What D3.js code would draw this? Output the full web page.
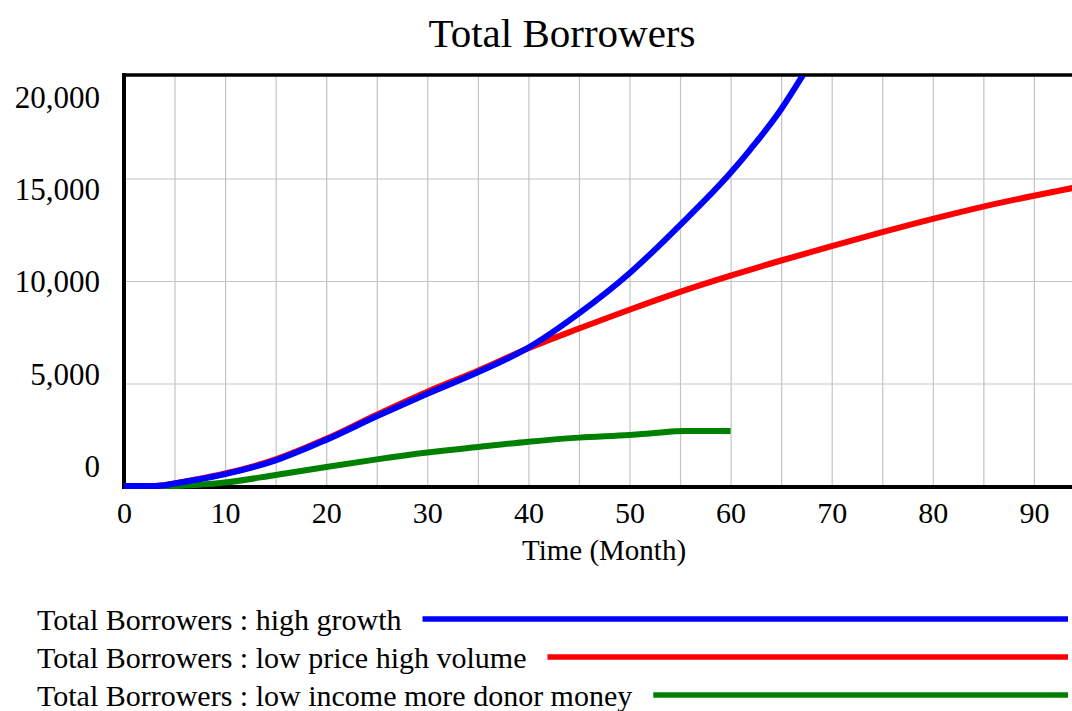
<!DOCTYPE html>
<html>
<head>
<meta charset="utf-8">
<script src="https://cdn.jsdelivr.net/npm/d3@7"></script>
<style>
  body { margin: 0; background: #fff; }
  text { font-family: "Liberation Serif", "Times New Roman", serif; fill: #000; }
</style>
</head>
<body>
<div id="chart"></div>
<script>
// months and values
var highGrowthT = [0, 3, 4, 5, 7, 10, 15, 20, 25, 30, 35, 40, 45, 50, 55, 60, 62, 65, 67, 70];
var highGrowthV = [0, 0, 40, 120, 290, 580, 1250, 2250, 3400, 4500, 5550, 6750, 8420, 10380, 12730, 15280, 16450, 18380, 19920, 22400];

var lowPriceT = [0, 3, 4, 5, 7, 10, 15, 20, 25, 30, 35, 40, 45, 50, 55, 60, 65, 70, 75, 80, 85, 90, 95];
var lowPriceV = [0, 0, 45, 130, 310, 610, 1300, 2300, 3480, 4600, 5620, 6720, 7680, 8600, 9470, 10260, 11000, 11700, 12380, 13030, 13630, 14160, 14650];

var donorT = [0, 5, 6, 8, 10, 15, 20, 25, 30, 35, 40, 45, 50, 52, 55.5, 60];
var donorV = [0, 0, 20, 80, 170, 540, 930, 1300, 1630, 1900, 2160, 2360, 2490, 2560, 2680, 2680];

var seriesNames = ["Total Borrowers : high growth",
                   "Total Borrowers : low price high volume",
                   "Total Borrowers : low income more donor money"];
var seriesColors = ["#0000ff", "#ff0000", "#008000"];

var xTicks = [0, 10, 20, 30, 40, 50, 60, 70, 80, 90];
var yTicks = [0, 5000, 10000, 15000, 20000];

var width = 1072, height = 711;
var plot = {left: 124, top: 76, bottom: 486, right: 1072};
var serif = "'Liberation Serif', 'Times New Roman', serif";

var svg = d3.select("#chart").append("svg")
    .attr("width", width)
    .attr("height", height)
    .style("background-color", "white");

var x = d3.scaleLinear().domain([0, 100]).range([plot.left, plot.left + 1011]);
var y = d3.scaleLinear().domain([0, 20000]).range([plot.bottom, plot.top]);
// the value labels sit evenly spread, not on the grid lines
var yLabel = d3.scaleLinear().domain([0, 20000]).range([466, 97]);

// title
svg.append("text")
    .attr("x", 562)
    .attr("y", 47)
    .attr("text-anchor", "middle")
    .attr("font-family", serif)
    .style("font-size", "41px")
    .text("Total Borrowers");

// grid
svg.append("g")
    .attr("transform", "translate(0," + plot.bottom + ")")
    .call(d3.axisBottom(x).tickValues(d3.range(5, 100, 5)).tickSize(-(plot.bottom - plot.top)).tickFormat(""))
    .call(function(g) { g.select(".domain").remove(); })
    .selectAll("line").attr("stroke", "#c4c4c4").attr("stroke-width", 1.2);

svg.append("g")
    .attr("transform", "translate(" + plot.left + ",0)")
    .call(d3.axisLeft(y).tickValues([5000, 10000, 15000]).tickSize(-(plot.right - plot.left)).tickFormat(""))
    .call(function(g) { g.select(".domain").remove(); })
    .selectAll("line").attr("stroke", "#c4c4c4").attr("stroke-width", 1.2);

// frame
svg.append("line")
    .attr("x1", plot.left - 2).attr("x2", plot.right)
    .attr("y1", plot.top - 1).attr("y2", plot.top - 1)
    .attr("stroke", "#000").attr("stroke-width", 3.5);
svg.append("line")
    .attr("x1", plot.left - 2).attr("x2", plot.right)
    .attr("y1", plot.bottom + 1).attr("y2", plot.bottom + 1)
    .attr("stroke", "#000").attr("stroke-width", 4);
svg.append("line")
    .attr("x1", plot.left).attr("x2", plot.left)
    .attr("y1", plot.top - 3).attr("y2", plot.bottom + 3)
    .attr("stroke", "#000").attr("stroke-width", 4);

// x axis labels
var xAxis = svg.append("g")
    .attr("transform", "translate(0," + plot.bottom + ")")
    .call(d3.axisBottom(x).tickValues(xTicks).tickSize(0).tickPadding(16));
xAxis.attr("font-family", serif).attr("font-size", 30);
xAxis.select(".domain").remove();
xAxis.selectAll("text")
    .style("font-family", serif)
    .style("font-size", "30px")
    .attr("fill", "#000");

svg.append("text")
    .attr("x", 604)
    .attr("y", 560)
    .attr("text-anchor", "middle")
    .attr("font-family", serif)
    .style("font-size", "29px")
    .text("Time (Month)");

// y axis labels
svg.append("g")
    .attr("font-family", serif)
  .selectAll("text")
    .data(yTicks)
    .enter()
    .append("text")
    .attr("x", 100)
    .attr("y", function(d) { return yLabel(d); })
    .attr("dy", "0.35em")
    .attr("text-anchor", "end")
    .style("font-size", "31px")
    .text(function(d) { return d3.format(",")(d); });

// series
svg.append("clipPath").attr("id", "plotclip")
  .append("rect")
    .attr("x", plot.left - 5).attr("y", plot.top)
    .attr("width", plot.right - plot.left + 5).attr("height", plot.bottom - plot.top + 5);

var line = d3.line()
    .x(function(d) { return x(d[0]); })
    .y(function(d) { return y(d[1]); })
    .curve(d3.curveMonotoneX);

var series = [
  d3.zip(donorT, donorV),
  d3.zip(lowPriceT, lowPriceV),
  d3.zip(highGrowthT, highGrowthV)
];
var order = [2, 1, 0];

svg.append("g")
    .attr("clip-path", "url(#plotclip)")
  .selectAll("path")
    .data(series)
    .enter()
    .append("path")
    .attr("d", line)
    .attr("fill", "none")
    .attr("stroke", function(d, i) { return seriesColors[order[i]]; })
    .attr("stroke-width", 6)
    .attr("stroke-linejoin", "round");

// legend
var legend = svg.append("g").attr("font-family", serif);
seriesNames.forEach(function(name, i) {
  var base = 630 + i * 38;
  var t = legend.append("text")
      .attr("x", 37)
      .attr("y", base)
      .style("font-size", "30px")
      .text(name);
  var end = t.node().getComputedTextLength() + 37;
  legend.append("line")
      .attr("x1", end + 21).attr("x2", 1068)
      .attr("y1", base - 11).attr("y2", base - 11)
      .attr("stroke", seriesColors[i])
      .attr("stroke-width", 5.5);
});
</script>
</body>
</html>
